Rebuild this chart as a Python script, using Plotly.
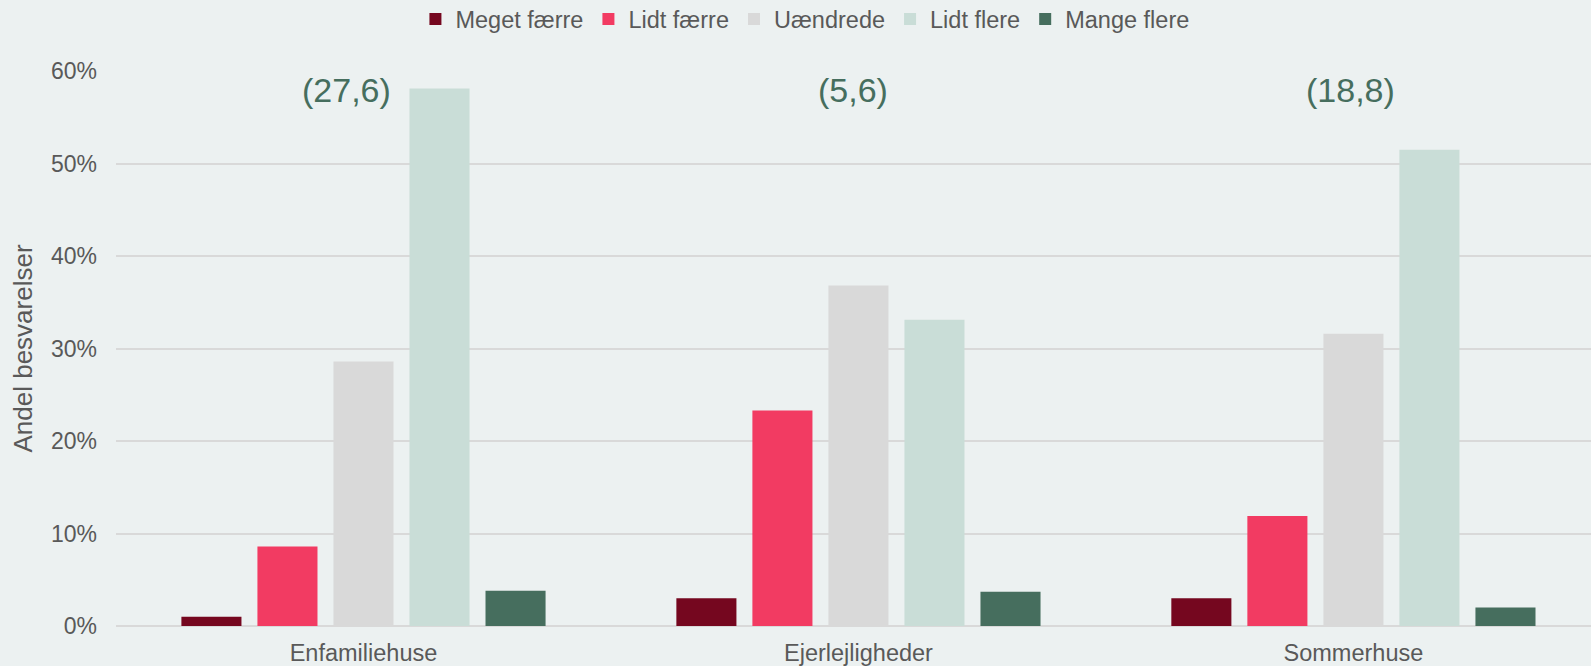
import plotly.graph_objects as go

categories = ["Enfamiliehuse", "Ejerlejligheder", "Sommerhuse"]
series_names = ["Meget færre", "Lidt færre", "Uændrede", "Lidt flere", "Mange flere"]
meget_faerre = [1.0, 3.0, 3.0]
lidt_faerre = [8.6, 23.3, 11.9]
uaendrede = [28.6, 36.8, 31.6]
lidt_flere = [58.1, 33.1, 51.5]
mange_flere = [3.8, 3.7, 2.0]
net_labels = ["(27,6)", "(5,6)", "(18,8)"]
y_ticks = [0, 10, 20, 30, 40, 50, 60]
y_ticklabels = ["0%", "10%", "20%", "30%", "40%", "50%", "60%"]

colors = ["#75071f", "#f23b62", "#d9d9d9", "#c9ddd7", "#466e5e"]
values = [meget_faerre, lidt_faerre, uaendrede, lidt_flere, mange_flere]

font_family = "Arial, Liberation Sans, sans-serif"
text_color = "#595959"
bg = "#ecf1f1"

fig = go.Figure()
for name, vals, col in zip(series_names, values, colors):
    fig.add_trace(go.Bar(name=name, x=categories, y=vals,
                         marker=dict(color=col, line=dict(width=0))))

label_shifts = [-17, -5, -3]
for cat, lab, sh in zip(categories, net_labels, label_shifts):
    fig.add_annotation(x=cat, y=58.0, xref="x", yref="y", text=lab, showarrow=False,
                       xshift=sh, yanchor="middle",
                       font=dict(family=font_family, size=34, color="#466e5e"))

fig.update_layout(
    width=1591, height=666,
    paper_bgcolor=bg, plot_bgcolor=bg,
    margin=dict(l=116, r=0, t=71, b=40),
    barmode="group", bargap=0.232, bargroupgap=0.21,
    font=dict(family=font_family, color=text_color, size=23),
    legend=dict(orientation="h", x=0.203, xanchor="left",
                yref="container", y=0.971, yanchor="middle",
                font=dict(size=23.5, color=text_color), bgcolor="rgba(0,0,0,0)",
                itemwidth=30, tracegroupgap=0),
    showlegend=True,
)
fig.update_xaxes(range=[-0.5, 2.48], showgrid=False, showline=False, ticks="",
                 automargin=False, ticklabelstandoff=10,
                 tickfont=dict(size=23.5, color=text_color))
fig.update_yaxes(range=[0, 60], tickvals=y_ticks, ticktext=y_ticklabels,
                 showgrid=True, gridcolor="#d9d9d9", gridwidth=2, zeroline=True,
                 zerolinecolor="#d9d9d9", zerolinewidth=2, showline=False,
                 automargin=False, ticklabelstandoff=18,
                 tickfont=dict(size=23, color=text_color), ticks="",
                 title=dict(text="Andel besvarelser", font=dict(size=26, color=text_color), standoff=10))

fig.write_html("out.html", config={"displayModeBar": False},
               post_script="document.body.style.margin='0';document.body.style.overflow='hidden';")
